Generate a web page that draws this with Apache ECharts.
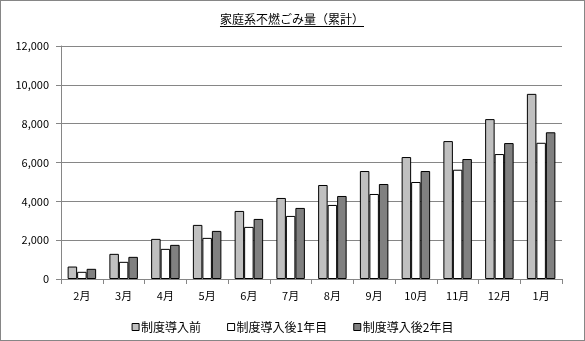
<!DOCTYPE html>
<html><head><meta charset="utf-8">
<script src="https://cdn.jsdelivr.net/npm/echarts@6/dist/echarts.min.js"></script>
<style>
html,body{margin:0;padding:0;background:#fff;}
#c{width:585px;height:341px;box-sizing:border-box;border:1px solid #868686;}
</style></head><body>
<div id="c"></div>
<script>
const titleText = '家庭系不燃ごみ量（累計）';
const categories = ['2月','3月','4月','5月','6月','7月','8月','9月','10月','11月','12月','1月'];
const seriesNames = ['制度導入前','制度導入後1年目','制度導入後2年目'];
const before = [642,1295,2066,2786,3505,4174,4842,5561,6281,7103,8234,9535];
const year1 = [370,884,1552,2118,2683,3248,3814,4379,4996,5628,6435,7015];
const year2 = [524,1141,1758,2477,3094,3660,4276,4893,5561,6178,7001,7556];
const colors = ['#c0c0c0','#ffffff','#808080'];
const font = '"Noto Sans CJK JP", sans-serif';

const titleSize = 12;
const mctx = document.createElement('canvas').getContext('2d');
mctx.font = titleSize + 'px ' + font;
const tw = mctx.measureText(titleText).width;
const tcx = 291;

const chart = echarts.init(document.getElementById('c'), null, {renderer:'canvas'});
const mk = (name, data, color) => ({
  name, type:'bar', data, barWidth:9.5, barGap:'0%',
  itemStyle:{color, borderColor:'#000', borderWidth:1},
  emphasis:{disabled:true}
});
chart.setOption({
  animation:false,
  graphic:[
    {type:'text', x:tcx, y:18, style:{text:titleText, fontSize:titleSize, fontFamily:font, fill:'#000', align:'center', verticalAlign:'middle'}},
    {type:'line', shape:{x1:tcx-tw/2,y1:25.5,x2:tcx+tw/2,y2:25.5}, style:{stroke:'#000',lineWidth:1}}
  ],
  legend:{top:315, left:'center', itemWidth:7, itemHeight:7, itemGap:26,
    icon:'rect', textStyle:{fontSize:12, color:'#000', fontFamily:font, padding:[0,0,0,-3]},
    data:seriesNames.map((n,i)=>({name:n, itemStyle:{color:colors[i], borderColor:'#000', borderWidth:1}}))},
  grid:{left:60, right:22, top:45, bottom:61, containLabel:false},
  xAxis:{type:'category', data:categories,
    axisLine:{lineStyle:{color:'#868686'}},
    axisTick:{show:true, length:5, lineStyle:{color:'#868686'}},
    axisLabel:{fontSize:11, color:'#000', fontFamily:font, margin:11}},
  yAxis:{type:'value', min:0, max:12000, interval:2000,
    axisLine:{show:true, lineStyle:{color:'#868686'}},
    axisTick:{show:true, length:5, lineStyle:{color:'#868686'}},
    splitLine:{lineStyle:{color:'#868686'}},
    axisLabel:{fontSize:11, color:'#000', fontFamily:font, margin:12,
      formatter:v=>v.toLocaleString('en-US')}},
  series:[mk(seriesNames[0],before,colors[0]), mk(seriesNames[1],year1,colors[1]), mk(seriesNames[2],year2,colors[2])]
});
</script></body></html>
